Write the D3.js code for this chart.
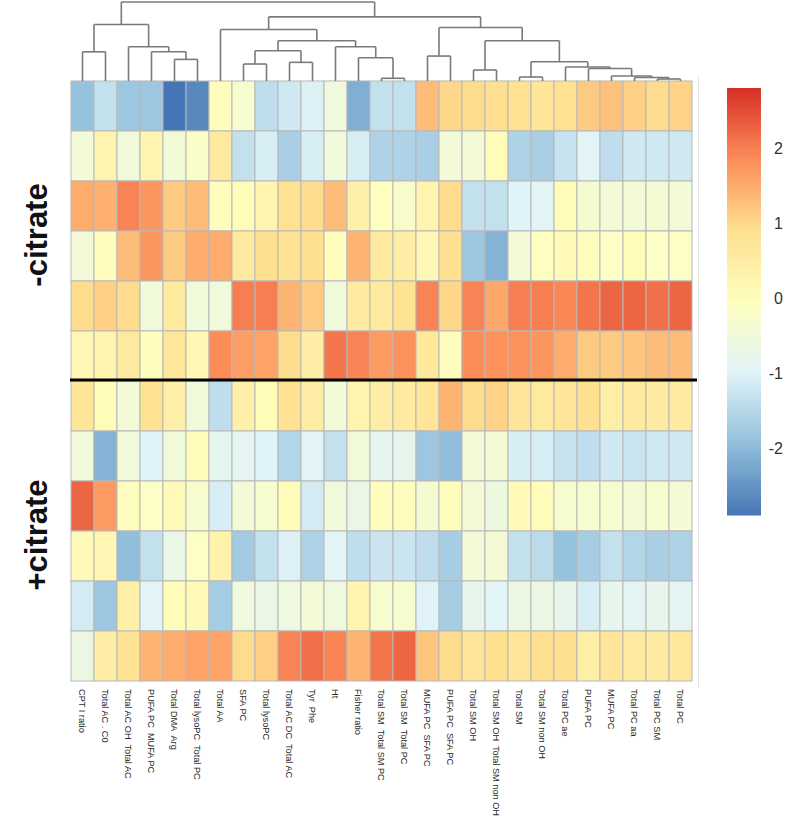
<!DOCTYPE html>
<html><head><meta charset="utf-8">
<script src="https://cdn.jsdelivr.net/npm/d3@7"></script>
<style>body{margin:0;background:#fff} svg{display:block} .lbl{white-space:pre}</style>
</head><body><svg id="c" width="786" height="827"></svg>
<script>
// ---- data ----
const columns = ["CPT I ratio","Total AC . C0","Total AC OH  Total AC","PUFA PC  MUFA PC","Total DMA  Arg",
  "Total lysoPC  Total PC","Total AA","SFA PC","Total lysoPC","Total AC DC  Total AC","Tyr  Phe","Ht",
  "Fisher ratio","Total SM  Total SM PC","Total SM  Total PC","MUFA PC  SFA PC","PUFA PC  SFA PC",
  "Total SM OH","Total SM OH  Total SM non OH","Total SM","Total SM non OH","Total PC ae","PUFA PC",
  "MUFA PC","Total PC aa","Total PC SM","Total PC"];
const rowIds = ["m1","m2","m3","m4","m5","m6","p1","p2","p3","p4","p5","p6"];
const groupLabels = ["-citrate","+citrate"];
const groupRows = [["m1","m6"],["p1","p6"]];
const values = [
 [-1.9,-1.35,-1.8,-1.8,-2.9,-2.65,0.0,-0.3,-1.4,-1.2,-1.05,-0.55,-2.15,-1.35,-1.35,1.3,1.0,0.95,0.9,0.85,0.75,0.85,1.15,1.25,1.1,0.95,1.05],
 [-0.45,0.3,-0.5,0.25,-0.45,-0.2,0.6,-1.35,-1.1,-1.65,-1.1,-0.5,-1.1,-1.6,-1.6,-1.65,-0.45,-0.45,0.05,-1.6,-1.65,-1.3,-0.95,-1.4,-1.2,-1.2,-1.2],
 [1.5,1.45,1.95,1.75,1.15,1.3,0.0,0.05,0.25,0.85,0.95,1.3,0.4,-0.05,-0.25,0.3,0.95,-1.35,-1.35,-1.0,-0.95,0.05,-0.35,-0.45,-0.45,-0.4,-0.45],
 [-0.45,0.0,1.3,1.75,1.15,1.5,1.5,0.6,0.9,0.8,0.9,0.0,1.4,0.6,0.5,0.15,0.9,-1.8,-2.1,-0.45,-0.05,0.1,0.0,-0.15,0.05,-0.15,-0.15],
 [0.95,1.1,0.95,-0.5,0.6,-0.5,-0.5,2.0,2.0,1.4,1.15,-0.5,0.55,0.6,0.8,1.95,1.0,1.95,1.55,2.0,2.0,1.9,2.1,2.25,2.25,2.15,2.25],
 [0.2,0.3,0.6,0.0,0.7,0.15,1.85,1.65,1.6,0.95,0.5,2.1,1.95,1.7,1.8,0.65,0.0,1.85,1.8,1.8,1.75,1.5,1.15,1.15,1.2,1.3,1.3],
 [0.75,0.05,-0.45,0.85,0.4,-0.5,-1.4,0.4,0.05,0.85,0.5,-0.45,0.3,0.5,0.55,0.75,1.4,0.95,1.05,0.75,0.6,0.75,0.9,0.45,0.6,0.55,0.55],
 [-0.5,-2.1,-0.5,-1.0,-0.5,0.05,-0.85,-0.9,-1.0,-1.55,-0.95,-1.35,-0.5,-0.85,-0.8,-1.8,-1.95,-0.45,-0.4,-1.1,-1.1,-1.3,-1.4,-1.2,-1.25,-1.2,-1.2],
 [2.25,1.7,0.0,-0.15,0.1,-0.3,-1.1,-0.45,-0.3,0.05,-1.15,-0.5,-0.7,0.0,0.0,-0.35,0.0,-0.45,-0.6,0.1,0.05,-0.3,-0.3,-0.3,-0.4,-0.3,-0.4],
 [0.1,0.2,-1.95,-1.35,-0.7,-0.15,0.35,-1.75,-1.35,-1.05,-1.6,-0.95,-1.4,-1.25,-1.25,-1.4,-1.7,-0.45,-0.4,-1.35,-1.45,-1.9,-1.7,-1.35,-1.55,-1.65,-1.6],
 [-1.15,-1.8,0.4,-0.95,0.05,0.1,-1.7,-0.55,-0.7,-0.55,-0.45,-0.55,0.3,-0.3,-0.3,-1.0,-1.7,-0.8,-0.95,-0.65,-0.65,-0.8,-1.1,-0.8,-0.9,-0.8,-0.9],
 [-0.65,0.5,0.85,1.4,1.5,1.6,1.6,0.95,1.1,1.95,2.15,1.95,1.4,2.1,2.25,1.2,0.95,0.75,0.9,0.75,0.9,0.9,0.45,0.75,0.55,0.55,0.7]
];
// hclust-style merges: negative = leaf column (1-based), positive = earlier merge; third = height
const merges = [
 [-26,-27,0.25],[-14,-15,0.34],[-25,1,0.44],[-20,-21,0.50],[-24,3,0.63],[-18,-19,1.38],
 [-23,5,1.56],[-22,7,1.75],[-8,-9,2.13],[-10,-11,2.34],[4,8,2.41],[-5,-6,2.71],[-13,2,2.91],
 [-16,-17,3.13],[-1,-2,3.66],[-4,12,3.66],[9,10,3.79],[-3,16,4.29],[-12,13,4.29],[17,19,5.04],
 [6,11,5.04],[-7,20,6.46],[14,21,6.71],[15,18,7.09],[22,23,8.04],[24,25,9.91]
];
const legendTicks = [2,1,0,-1,-2];
const colorDomain = [-2.9, 2.8];
const palette = ["#4575B4","#91BFDB","#E0F3F8","#FFFFBF","#FEE090","#FC8D59","#D73027"];

// ---- scales ----
const svg = d3.select("#c");
const x = d3.scaleBand().domain(columns).range([71, 692]);
const y = d3.scaleBand().domain(rowIds).range([81, 681]);
const stops = palette.map((c,i)=> colorDomain[0] + i*(colorDomain[1]-colorDomain[0])/(palette.length-1));
const color = d3.scaleLinear().domain(stops).range(palette).clamp(true);

// ---- cells ----
const cells = [];
values.forEach((row,i)=>row.forEach((v,j)=>cells.push({r:rowIds[i], c:columns[j], v})));
svg.append("g").selectAll("rect").data(cells).join("rect")
  .attr("x", d=>x(d.c)).attr("y", d=>y(d.r))
  .attr("width", x.bandwidth()).attr("height", y.bandwidth())
  .attr("fill", d=>color(d.v)).attr("stroke","#b8b8b8").attr("stroke-width",1);

// faint right rule
svg.append("line").attr("x1",698.5).attr("x2",698.5).attr("y1",76).attr("y2",688)
  .attr("stroke","#e4e4e4").attr("stroke-width",1);

// separator
svg.append("line").attr("x1",70).attr("x2",697)
  .attr("y1", y(groupRows[1][0])-1).attr("y2", y(groupRows[1][0])-1)
  .attr("stroke","#000").attr("stroke-width",3);

// ---- dendrogram ----
const yd = d3.scaleLinear().domain([0, d3.max(merges, m=>m[2])]).range([81, 2]);
const nodeX = [], nodeH = [];
function px(k){ return k<0 ? x(columns[-k-1]) + x.bandwidth()/2 : nodeX[k-1]; }
function ph(k){ return k<0 ? 0 : nodeH[k-1]; }
const segs = [];
merges.forEach((m,i)=>{
  const xl = px(m[0]), xr = px(m[1]), h = m[2];
  nodeX[i] = (xl+xr)/2; nodeH[i] = h;
  segs.push([xl, yd(ph(m[0])), xl, yd(h)]);
  segs.push([xl, yd(h), xr, yd(h)]);
  segs.push([xr, yd(h), xr, yd(ph(m[1]))]);
});
svg.append("g").selectAll("path").data(segs).join("path")
  .attr("d", s=>`M${s[0]},${s[1]}L${s[2]},${s[3]}`)
  .attr("stroke","#7a7a7a").attr("stroke-width",1.6).attr("fill","none");

// ---- column labels ----
svg.append("g").selectAll("text").data(columns).join("text")
  .attr("class","lbl").attr("xml:space","preserve")
  .attr("transform", d=>`translate(${x(d)+x.bandwidth()/2},689) rotate(90)`)
  .attr("dy","0.35em")
  .attr("font-family","Liberation Sans, Arial, sans-serif").attr("font-size",9.2)
  .attr("fill","#2a2a2a").text(d=>d);

// ---- group labels ----
svg.append("g").selectAll("text").data(groupLabels).join("text")
  .attr("transform",(d,i)=>{
    const cy = (y(groupRows[i][0]) + y(groupRows[i][1]) + y.bandwidth())/2 + 4;
    return `translate(36,${cy}) rotate(-90)`;})
  .attr("text-anchor","middle").attr("dy","0.35em")
  .attr("font-family","Liberation Sans, Arial, sans-serif").attr("font-weight","bold")
  .attr("font-size",31).attr("fill","#111").text(d=>d);

// ---- legend ----
const ly = d3.scaleLinear().domain(colorDomain).range([515.5, 88]);
const grad = svg.append("defs").append("linearGradient").attr("id","lg")
  .attr("x1",0).attr("x2",0).attr("y1",1).attr("y2",0);
grad.selectAll("stop").data(stops).join("stop")
  .attr("offset",(d,i)=>i/(stops.length-1)).attr("stop-color",(d,i)=>palette[i]);
svg.append("rect").attr("x",727).attr("width",34)
  .attr("y",ly(colorDomain[1])).attr("height",ly(colorDomain[0])-ly(colorDomain[1]))
  .attr("fill","url(#lg)");
svg.append("g").selectAll("text").data(legendTicks).join("text")
  .attr("x",783).attr("y",d=>ly(d)).attr("dy","0.35em").attr("text-anchor","end")
  .attr("font-family","Liberation Sans, Arial, sans-serif").attr("font-size",16)
  .attr("fill","#333").text(d=>d<0?"-"+Math.abs(d):String(d));
</script></body></html>
